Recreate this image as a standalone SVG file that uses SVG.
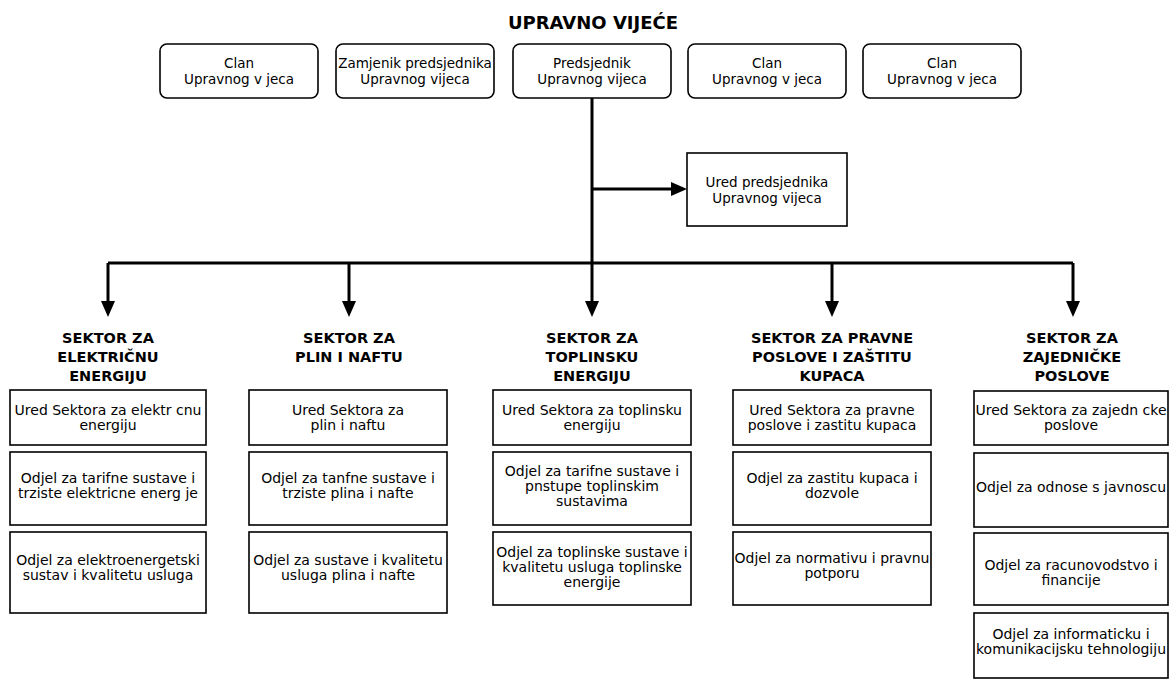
<svg xmlns="http://www.w3.org/2000/svg" width="1169" height="680" viewBox="0 0 1169 680">
<style>
.bg{fill:#fff}
.rbox{fill:#fff;stroke:#000;stroke-width:1.6}
.box{fill:#fff;stroke:#000;stroke-width:1.6}
.t{font-family:"DejaVu Sans","Liberation Sans",Verdana,sans-serif;font-size:14px;text-anchor:middle;fill:#000}
.ts{font-size:13.5px}
.h{font-family:"DejaVu Sans","Liberation Sans",Verdana,sans-serif;font-size:14.5px;font-weight:bold;text-anchor:middle;fill:#000}
.title{font-family:"DejaVu Sans","Liberation Sans",Verdana,sans-serif;font-size:18px;font-weight:bold;text-anchor:middle;fill:#000}
.conn{fill:none;stroke:#000;stroke-width:3}
</style>
<defs>
<marker id="arr" markerUnits="userSpaceOnUse" markerWidth="16" markerHeight="14" refX="4" refY="7" orient="auto" viewBox="0 0 16 14">
<path d="M0,0 L16,7 L0,14 z" fill="#000"/>
</marker>
</defs>
<rect class="bg" x="0" y="0" width="1169" height="680"/>

<text id="title" class="title" x="593" y="29">UPRAVNO VIJEĆE</text>

<g id="connectors">
<path class="conn" d="M592,98 V305" marker-end="url(#arr)"/>
<path class="conn" d="M592,189 H675" marker-end="url(#arr)"/>
<path class="conn" d="M108,263 H1073"/>
<path class="conn" d="M108,263 V305" marker-end="url(#arr)"/>
<path class="conn" d="M349,263 V305" marker-end="url(#arr)"/>
<path class="conn" d="M832,263 V305" marker-end="url(#arr)"/>
<path class="conn" d="M1073,263 V305" marker-end="url(#arr)"/>
</g>

<g id="clan1"><rect class="rbox" x="160" y="44" width="158" height="54" rx="7"/><text class="t ts" x="239" y="68">Clan</text><text class="t ts" x="239" y="84">Upravnog v jeca</text></g>
<g id="zamjenik"><rect class="rbox" x="336" y="44" width="158" height="54" rx="7"/><text class="t ts" x="415" y="68">Zamjenik predsjednika</text><text class="t ts" x="415" y="84">Upravnog vijeca</text></g>
<g id="predsjednik"><rect class="rbox" x="513" y="44" width="158" height="54" rx="7"/><text class="t ts" x="592" y="68">Predsjednik</text><text class="t ts" x="592" y="84">Upravnog vijeca</text></g>
<g id="clan2"><rect class="rbox" x="688" y="44" width="158" height="54" rx="7"/><text class="t ts" x="767" y="68">Clan</text><text class="t ts" x="767" y="84">Upravnog v jeca</text></g>
<g id="clan3"><rect class="rbox" x="863" y="44" width="158" height="54" rx="7"/><text class="t ts" x="942" y="68">Clan</text><text class="t ts" x="942" y="84">Upravnog v jeca</text></g>

<g id="ured-predsjednika"><rect class="box" x="687" y="153" width="160" height="73"/><text class="t ts" x="767" y="187">Ured predsjednika</text><text class="t ts" x="767" y="203">Upravnog vijeca</text></g>

<g id="sektor1">
<text class="h" x="108" y="343">SEKTOR ZA</text><text class="h" x="108" y="362">ELEKTRIČNU</text><text class="h" x="108" y="381">ENERGIJU</text>
</g>
<g id="s1-ured"><rect class="box" x="10" y="390" width="196" height="55"/><text class="t" x="108" y="415">Ured Sektora za elektr cnu</text><text class="t" x="108" y="430">energiju</text></g>
<g id="s1-odjel1"><rect class="box" x="10" y="452" width="196" height="73"/><text class="t" x="108" y="483">Odjel za tarifne sustave i</text><text class="t" x="108" y="498">trziste elektricne energ je</text></g>
<g id="s1-odjel2"><rect class="box" x="10" y="532" width="196" height="81"/><text class="t" x="108" y="565">Odjel za elektroenergetski</text><text class="t" x="108" y="580">sustav i kvalitetu usluga</text></g>

<g id="sektor2">
<text class="h" x="349" y="343">SEKTOR ZA</text><text class="h" x="349" y="362">PLIN I NAFTU</text>
</g>
<g id="s2-ured"><rect class="box" x="249" y="390" width="198" height="55"/><text class="t" x="348" y="415">Ured Sektora za</text><text class="t" x="348" y="430">plin i naftu</text></g>
<g id="s2-odjel1"><rect class="box" x="249" y="452" width="198" height="73"/><text class="t" x="348" y="483">Odjel za tanfne sustave i</text><text class="t" x="348" y="498">trziste plina i nafte</text></g>
<g id="s2-odjel2"><rect class="box" x="249" y="532" width="198" height="81"/><text class="t" x="348" y="565">Odjel za sustave i kvalitetu</text><text class="t" x="348" y="580">usluga plina i nafte</text></g>

<g id="sektor3">
<text class="h" x="592" y="343">SEKTOR ZA</text><text class="h" x="592" y="362">TOPLINSKU</text><text class="h" x="592" y="381">ENERGIJU</text>
</g>
<g id="s3-ured"><rect class="box" x="493" y="390" width="198" height="55"/><text class="t" x="592" y="415">Ured Sektora za toplinsku</text><text class="t" x="592" y="430">energiju</text></g>
<g id="s3-odjel1"><rect class="box" x="493" y="452" width="198" height="73"/><text class="t" x="592" y="476">Odjel za tarifne sustave i</text><text class="t" x="592" y="491">pnstupe toplinskim</text><text class="t" x="592" y="506">sustavima</text></g>
<g id="s3-odjel2"><rect class="box" x="493" y="532" width="198" height="73"/><text class="t" x="592" y="557">Odjel za toplinske sustave i</text><text class="t" x="592" y="572">kvalitetu usluga toplinske</text><text class="t" x="592" y="587">energije</text></g>

<g id="sektor4">
<text class="h" x="832" y="343">SEKTOR ZA PRAVNE</text><text class="h" x="832" y="362">POSLOVE I ZAŠTITU</text><text class="h" x="832" y="381">KUPACA</text>
</g>
<g id="s4-ured"><rect class="box" x="733" y="390" width="198" height="55"/><text class="t" x="832" y="415">Ured Sektora za pravne</text><text class="t" x="832" y="430">poslove i zastitu kupaca</text></g>
<g id="s4-odjel1"><rect class="box" x="733" y="452" width="198" height="73"/><text class="t" x="832" y="483">Odjel za zastitu kupaca i</text><text class="t" x="832" y="498">dozvole</text></g>
<g id="s4-odjel2"><rect class="box" x="733" y="532" width="198" height="73"/><text class="t" x="832" y="563">Odjel za normativu i pravnu</text><text class="t" x="832" y="578">potporu</text></g>

<g id="sektor5">
<text class="h" x="1072" y="343">SEKTOR ZA</text><text class="h" x="1072" y="362">ZAJEDNIČKE</text><text class="h" x="1072" y="381">POSLOVE</text>
</g>
<g id="s5-ured"><rect class="box" x="974" y="391" width="194" height="54"/><text class="t" x="1071" y="415">Ured Sektora za zajedn cke</text><text class="t" x="1071" y="430">poslove</text></g>
<g id="s5-odjel1"><rect class="box" x="974" y="453" width="194" height="74"/><text class="t" x="1071" y="492">Odjel za odnose s javnoscu</text></g>
<g id="s5-odjel2"><rect class="box" x="974" y="533" width="194" height="72"/><text class="t" x="1071" y="570">Odjel za racunovodstvo i</text><text class="t" x="1071" y="585">financije</text></g>
<g id="s5-odjel3"><rect class="box" x="974" y="613" width="194" height="65"/><text class="t" x="1071" y="639">Odjel za informaticku i</text><text class="t" x="1071" y="654">komunikacijsku tehnologiju</text></g>
</svg>
